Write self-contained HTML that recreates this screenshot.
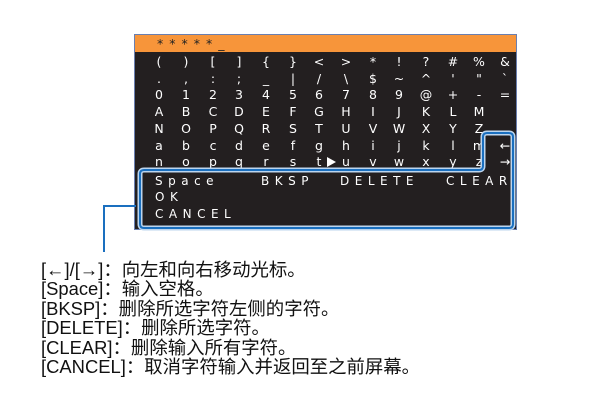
<!DOCTYPE html>
<html><head><meta charset="utf-8"><style>
body{margin:0;width:600px;height:400px;background:#fff;position:relative;overflow:hidden}
.scr{position:absolute;left:134px;top:34px;width:383px;height:196px;background:#231f20;border:1px solid #6a7fb0;box-sizing:border-box}
.hdr{position:absolute;left:135px;top:35px;width:381px;height:17px;background:#f7953a}
.t{position:absolute;font-family:"DejaVu Sans",sans-serif;color:#fff;font-size:12.5px;transform:translateX(-50%);line-height:1}
.m{position:absolute;font-family:"DejaVu Sans",sans-serif;color:#fff;font-size:12px;letter-spacing:5.5px;line-height:1}
.txt{position:absolute;left:41px;top:260px;font-family:"Liberation Sans","Noto Sans CJK SC",sans-serif;font-size:18.4px;line-height:19.4px;color:#111}
</style></head><body>
<div class="scr"></div><div class="hdr"></div>
<div class="t" style="left:157px;top:38px;color:#222;transform:none;letter-spacing:6px">*****_</div>
<div id="g"></div>
<div class="m" style="left:155px;top:175px">Space</div>
<div class="m" style="left:261px;top:175px">BKSP</div>
<div class="m" style="left:340px;top:175px">DELETE</div>
<div class="m" style="left:446px;top:175px">CLEAR</div>
<div class="m" style="left:155px;top:191px">OK</div>
<div class="m" style="left:155px;top:208px">CANCEL</div>
<svg width="600" height="400" style="position:absolute;left:0;top:0">
<polygon points="327,157 327,167 336,162" fill="#fff"/>
<path d="M144,170 H479 Q483,170 483,166 V137 Q483,133 487,133 H509 Q513,133 513,137 V224 Q513,228 509,228 H144 Q140,228 140,224 V174 Q140,170 144,170 Z" fill="none" stroke="#bcd5ee" stroke-width="5"/>
<path d="M144,170 H479 Q483,170 483,166 V137 Q483,133 487,133 H509 Q513,133 513,137 V224 Q513,228 509,228 H144 Q140,228 140,224 V174 Q140,170 144,170 Z" fill="none" stroke="#1a6fbf" stroke-width="2"/>
<path d="M136,206 H104 V252" fill="none" stroke="#1a6fbf" stroke-width="2"/>
</svg>
<div class="txt">[←]/[→]：向左和向右移动光标。<br>[Space]：输入空格。<br>[BKSP]：删除所选字符左侧的字符。<br>[DELETE]：删除所选字符。<br>[CLEAR]：删除输入所有字符。<br>[CANCEL]：取消字符输入并返回至之前屏幕。</div>
<script>
var rows=["()[]{}<>*!?#%&",".,:;_|/\\$~^'\"`","0123456789@+-=","ABCDEFGHIJKLM","NOPQRSTUVWXYZ","abcdefghijklm","nopqrstuvwxyz→"];
var xs=[159,186,213,239,266,293,319,346,373,399,426,453,479,505];
var h="";
rows.forEach(function(r,i){Array.from(r).forEach(function(c,j){
h+='<div class="t" style="left:'+xs[j]+'px;top:'+(56+i*16.7)+'px">'+c.replace('&','&amp;').replace('<','&lt;').replace('>','&gt;')+'</div>';});});
h+='<div class="t" style="left:505px;top:140px">←</div>';
document.getElementById("g").innerHTML=h;
</script>
</body></html>
